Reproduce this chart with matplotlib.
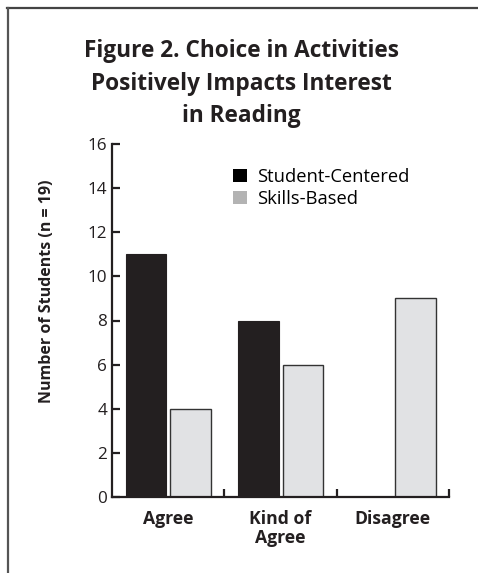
import matplotlib
matplotlib.use("Agg")
import matplotlib.pyplot as plt
from matplotlib.patches import Patch
from matplotlib.lines import Line2D

# ==========================================================
# DATA
# ==========================================================
categories = ["Agree", "Kind of\nAgree", "Disagree"]
student_centered = [11, 8, 0]
skills_based = [4, 6, 9]
y_ticks = [0, 2, 4, 6, 8, 10, 12, 14, 16]

title_lines = ["Figure 2. Choice in Activities",
               "Positively Impacts Interest",
               "in Reading"]
y_label = "Number of Students (n = 19)"

# ==========================================================
# STYLE
# ==========================================================
plt.rcParams["font.family"] = ["Open Sans", "DejaVu Sans"]
ink = "#231f20"
dark_fill = "#231f20"
light_fill = "#e1e2e4"
legend_gray = "#b3b3b3"

W, H = 478, 573
fig = plt.figure(figsize=(W / 100, H / 100), dpi=100)
ax = fig.add_axes([112 / W, 76 / H, 337 / W, 353 / H])

# ==========================================================
# BARS
# ==========================================================
bar_w = 0.362
for i, (sc, sb) in enumerate(zip(student_centered, skills_based)):
    if sc > 0:
        ax.bar(i + 0.122, sc, width=bar_w, align="edge",
               color=dark_fill, edgecolor=ink, linewidth=0.8)
    ax.bar(i + 0.52, sb, width=bar_w, align="edge",
           color=light_fill, edgecolor="#333333", linewidth=1.0)

ax.set_xlim(0, len(categories))
ax.set_ylim(0, 16)

for side in ["top", "right"]:
    ax.spines[side].set_visible(False)
for side in ["left", "bottom"]:
    ax.spines[side].set_linewidth(1.6)
    ax.spines[side].set_color(ink)

ax.set_yticks(y_ticks)
ax.set_yticklabels([str(v) for v in y_ticks], fontsize=12.3, color=ink)
ax.tick_params(axis="y", direction="in", length=6, width=1.6, color=ink, pad=3.5)

# group separator ticks on x axis, labels at group centres
ax.set_xticks(range(1, len(categories) + 1))
ax.set_xticklabels([])
ax.tick_params(axis="x", which="major", direction="in", length=6, width=1.6, color=ink)
ax.set_xticks([i + 0.5 for i in range(len(categories))], minor=True)
ax.set_xticklabels(categories, minor=True, fontsize=12.7, fontweight="bold",
                   color=ink, linespacing=1.1)
ax.tick_params(axis="x", which="minor", length=0, pad=9)

# ==========================================================
# LEGEND
# ==========================================================
handles = [Patch(facecolor="black", edgecolor="none", label="Student-Centered"),
           Patch(facecolor=legend_gray, edgecolor="none", label="Skills-Based")]
ax.legend(handles=handles, loc="upper left", bbox_to_anchor=(233 / W, 1 - 168 / H),
          bbox_transform=fig.transFigure, frameon=False, fontsize=13.2,
          handlelength=0.78, handleheight=0.67, handletextpad=0.55, labelspacing=0.22,
          borderaxespad=0, borderpad=0)

# ==========================================================
# TEXT
# ==========================================================
for k, line in enumerate(title_lines):
    fig.text(241.5 / W, 1 - (57 + 32.5 * k) / H, line, ha="center", va="baseline",
             fontsize=16.3, fontweight="bold", color=ink)
fig.text(47 / W, 1 - 291 / H, y_label, ha="center", va="center",
         rotation=90, fontsize=11.5, fontweight="bold", color=ink)

# frame lines (top and left)
fig.add_artist(Line2D([7 / W, 1], [1 - 8 / H, 1 - 8 / H],
                      transform=fig.transFigure, color="#444444", linewidth=1.6))
fig.add_artist(Line2D([8 / W, 8 / W], [1 - 8 / H, 0],
                      transform=fig.transFigure, color="#555555", linewidth=1.6))

plt.savefig("out.png", dpi=100)
